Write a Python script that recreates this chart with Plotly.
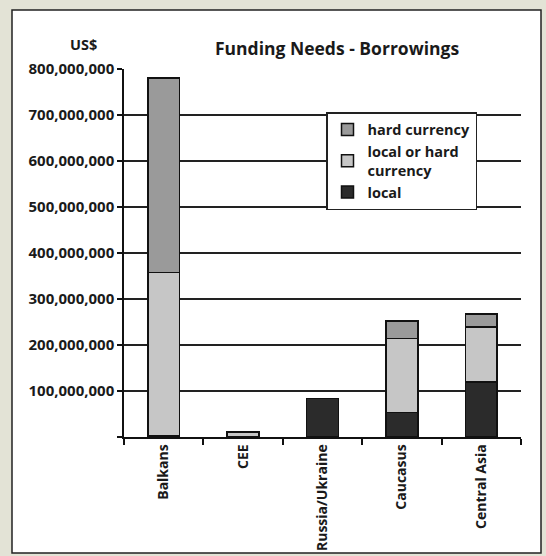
import plotly.graph_objects as go

categories = ["Balkans", "CEE", "Russia/Ukraine", "Caucasus", "Central Asia"]
local = [3_000_000, 0, 84_000_000, 53_000_000, 120_000_000]
local_or_hard = [355_000_000, 11_000_000, 0, 161_000_000, 119_000_000]
hard_currency = [422_000_000, 1_000_000, 0, 38_000_000, 28_000_000]
y_ticks = [0, 100_000_000, 200_000_000, 300_000_000, 400_000_000,
           500_000_000, 600_000_000, 700_000_000, 800_000_000]

W, H = 546, 556
L, R, T, B = 124, 25, 69, 119
FONT = "Open Sans"
TXT = "#1a1a1a"

fig = go.Figure()
line = dict(color="#111111", width=1.5)
fig.add_bar(x=categories, y=local, name="local",
            marker=dict(color="#2b2b2b", line=line))
fig.add_bar(x=categories, y=local_or_hard, name="local or hard<br>currency",
            marker=dict(color="#c6c6c6", line=line))
fig.add_bar(x=categories, y=hard_currency, name="hard currency",
            marker=dict(color="#9a9a9a", line=line))

pw, ph = W - L - R, H - T - B
def px_x(p): return (p - L) / pw
def px_y(p): return (H - B - p) / ph

fig.update_layout(
    width=W, height=H,
    margin=dict(l=L, r=R, t=T, b=B, autoexpand=False),
    barmode="stack", bargap=0.6,
    paper_bgcolor="#e3e3d6", plot_bgcolor="white",
    font=dict(family=FONT, size=14, color=TXT),
    showlegend=True,
    legend=dict(
        x=px_x(326), y=px_y(112), xanchor="left", yanchor="top",
        bgcolor="white", bordercolor="#222", borderwidth=1.5,
        traceorder="reversed",
        font=dict(family=FONT, size=14.5, color=TXT, weight="bold"),
        itemwidth=30, tracegroupgap=0,
    ),
    xaxis=dict(
        type="category", tickangle=-90, showgrid=False, automargin=False,
        showline=True, linecolor="#111", linewidth=1.5,
        ticks="outside", ticklen=6, tickcolor="#111", tickwidth=1.5,
        tickson="boundaries",
        tickfont=dict(family=FONT, size=14, color=TXT, weight="bold"),
    ),
    yaxis=dict(
        range=[0, 800_000_000], tickvals=y_ticks, automargin=False,
        ticktext=["" if v == 0 else f"{v:,}" for v in y_ticks],
        showgrid=True, gridcolor="#222", gridwidth=1.5,
        showline=True, linecolor="#111", linewidth=1.5,
        ticks="outside", ticklen=5, tickcolor="#111", tickwidth=1.5,
        zeroline=False,
        tickfont=dict(family=FONT, size=15, color=TXT, weight="bold"),
    ),
    shapes=[dict(type="rect", xref="paper", yref="paper", layer="below",
                 x0=px_x(12), x1=px_x(541), y0=px_y(553), y1=px_y(10),
                 fillcolor="white", line=dict(color="#222", width=1.5))],
    annotations=[
        dict(text="Funding Needs - Borrowings", xref="paper", yref="paper",
             x=px_x(337), y=px_y(34), showarrow=False,
             font=dict(family=FONT, size=17.5, color=TXT, weight="bold")),
        dict(text="US$", xref="paper", yref="paper",
             x=px_x(68), y=px_y(33), showarrow=False,
             font=dict(family=FONT, size=14.5, color=TXT, weight="bold")),
    ],
)

fig.write_html("out.html")
